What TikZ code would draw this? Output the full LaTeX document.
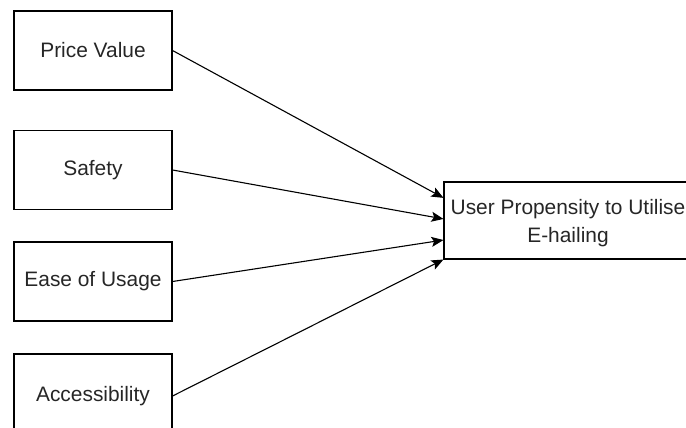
\documentclass[tikz,border=0pt]{standalone}
\usepackage{fontspec}
\setmainfont{Liberation Sans}
\usepackage{tikz}
\usetikzlibrary{calc}
\usetikzlibrary{arrows.meta}
\tikzset{>={Stealth[length=12pt,width=10pt,inset=2.5pt]}}
\tikzset{factor/.style={draw,line width=1.1pt,minimum width=158pt,minimum height=79pt,text=black!85}}

\begin{document}
\begin{tikzpicture}[x=1pt,y=-1pt,font=\fontsize{20.9}{28}\selectfont]
	\clip (0,0) rectangle (686,428);
	\node[factor] (price) at (93,50.5) {Price Value};
	\node[factor] (safety) at (93,170) {Safety};
	\node[factor] (ease) at (93,281.5) {Ease of Usage};
	\node[factor,minimum height=84pt] (access) at (93,396) {Accessibility};
	\node[factor,minimum width=248pt,minimum height=77pt,align=center,text depth=0pt] (outcome) at (568,220.5) {User Propensity to Utilise\\E-hailing};
	% entry points spread down the left side of the outcome box
	\coordinate (in1) at ($(outcome.north west)!0.21!(outcome.south west)$);
	\coordinate (in2) at ($(outcome.north west)!0.48!(outcome.south west)$);
	\coordinate (in3) at ($(outcome.north west)!0.75!(outcome.south west)$);
	\coordinate (in4) at (outcome.south west);
	\draw[->,line width=1.1pt] (price.east) -- (in1);
	\draw[->,line width=1.1pt] (safety.east) -- (in2);
	\draw[->,line width=1.1pt] (ease.east) -- (in3);
	\draw[->,line width=1.1pt] (access.east) -- (in4);
\end{tikzpicture}
\end{document}
